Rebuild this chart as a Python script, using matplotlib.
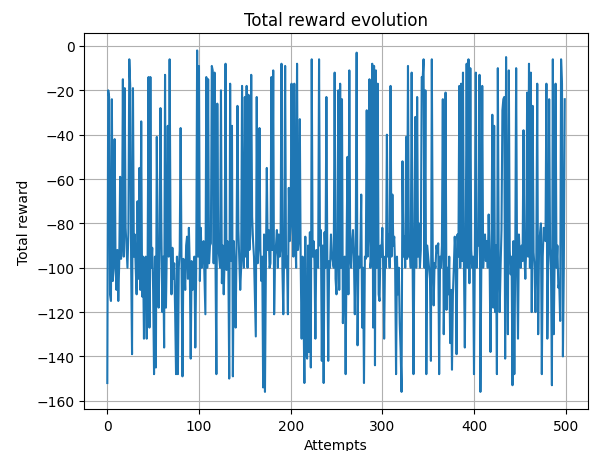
import matplotlib
matplotlib.use("Agg")
from matplotlib import pyplot as plt

# total reward per attempt (attempts 0..499)
rewards_0_45 = [-152, -20, -23, -112, -115, -24, -106, -100, -42, -97,
                -110, -92, -115, -98, -59, -96, -88, -15, -95, -19,
                -82, -91, -100, -84, -6, -18, -98, -139, -19, -95,
                -85, -100, -112, -70, -105, -55, -110, -34, -113, -95,
                -132, -96, -95, -132, -97, -14]
rewards_46_98 = [-127, -14, -100, -91, -110, -148, -95, -145, -41, -100,
                 -118, -90, -28, -83, -120, -95, -136, -13, -118, -90,
                 -36, -95, -6, -86, -112, -91, -105, -98, -120, -148,
                 -95, -148, -100, -92, -37, -100, -149, -96, -100, -110,
                 -90, -86, -105, -82, -100, -141, -97, -110, -104, -95,
                 -136, -100, -2]
rewards_99_150 = [-95, -9, -106, -82, -100, -95, -88, -104, -121, -14,
                  -100, -15, -98, -90, -89, -9, -11, -98, -12, -96,
                  -148, -26, -90, -95, -100, -20, -107, -90, -112, -96,
                  -8, -101, -88, -96, -150, -17, -97, -36, -149, -88,
                  -100, -127, -90, -27, -83, -96, -110, -100, -18, -94,
                  -100, -23]
rewards_151_203 = [-95, -18, -100, -22, -92, -85, -13, -77, -88, -95,
                   -113, -131, -23, -98, -90, -37, -92, -106, -95, -154,
                   -85, -156, -100, -55, -92, -83, -100, -98, -14, -92,
                   -11, -121, -95, -90, -83, -100, -85, -95, -91, -8,
                   -100, -121, -90, -9, -100, -95, -121, -64, -88, -80,
                   -17, -80, -95]
rewards_204_255 = [-17, -85, -100, -8, -92, -87, -33, -100, -132, -95,
                   -118, -152, -86, -139, -141, -90, -138, -84, -145, -6,
                   -95, -88, -97, -132, -92, -95, -100, -6, -90, -83,
                   -142, -90, -152, -84, -100, -23, -96, -142, -97, -100,
                   -85, -95, -97, -100, -12, -105, -112, -90, -20, -110,
                   -17, -100]
rewards_256_308 = [-24, -125, -100, -95, -148, -92, -50, -112, -11, -94,
                   -100, -88, -83, -95, -121, -90, -3, -135, -95, -100,
                   -94, -67, -127, -100, -152, -95, -96, -29, -95, -83,
                   -15, -100, -96, -8, -127, -9, -144, -11, -100, -17,
                   -112, -115, -90, -95, -82, -100, -132, -95, -100, -40,
                   -95, -85, -100]
rewards_309_360 = [-18, -95, -67, -90, -86, -100, -148, -95, -112, -100,
                   -125, -138, -156, -52, -95, -86, -100, -41, -96, -9,
                   -95, -88, -100, -12, -95, -148, -90, -32, -100, -23,
                   -95, -80, -100, -92, -14, -15, -6, -100, -20, -148,
                   -90, -95, -100, -105, -142, -6, -95, -117, -98, -100,
                   -90, -93]
rewards_361_412 = [-89, -148, -95, -100, -90, -24, -130, -95, -21, -119,
                   -100, -112, -95, -134, -110, -146, -112, -100, -86, -95,
                   -139, -85, -95, -18, -100, -17, -97, -12, -98, -136,
                   -90, -8, -100, -6, -107, -10, -92, -100, -95, -148,
                   -90, -12, -100, -85, -90, -13, -156, -100, -18, -100,
                   -90, -85]
rewards_413_464 = [-97, -88, -100, -76, -95, -138, -100, -31, -118, -36,
                   -120, -90, -148, -10, -97, -120, -100, -83, -29, -24,
                   -23, -141, -5, -95, -130, -11, -92, -103, -95, -153,
                   -88, -148, -95, -10, -100, -132, -85, -95, -100, -90,
                   -97, -38, -95, -105, -90, -21, -95, -8, -100, -12,
                   -120, -27]
rewards_465_499 = [-93, -100, -120, -95, -17, -130, -90, -85, -80, -148,
                   -95, -82, -85, -88, -17, -132, -97, -24, -91, -100,
                   -153, -6, -130, -95, -17, -100, -90, -109, -107, -124,
                   -6, -17, -140, -100, -24]

rewards = (rewards_0_45 + rewards_46_98 + rewards_99_150 + rewards_151_203
           + rewards_204_255 + rewards_256_308 + rewards_309_360
           + rewards_361_412 + rewards_413_464 + rewards_465_499)
attempts = list(range(len(rewards)))

fig = plt.figure(figsize=(5.92, 4.52), dpi=100)
ax = fig.add_axes([0.1426, 0.093, 0.850, 0.831])
ax.plot(attempts, rewards, color='#1f77b4', linewidth=1.5)
ax.grid(True, color='#b0b0b0', linewidth=0.8)
ax.set_yticks([0, -20, -40, -60, -80, -100, -120, -140, -160])
ax.set_title('Total reward evolution')
ax.set_xlabel('Attempts')
ax.set_ylabel('Total reward')

plt.savefig('out.png', dpi=100)
